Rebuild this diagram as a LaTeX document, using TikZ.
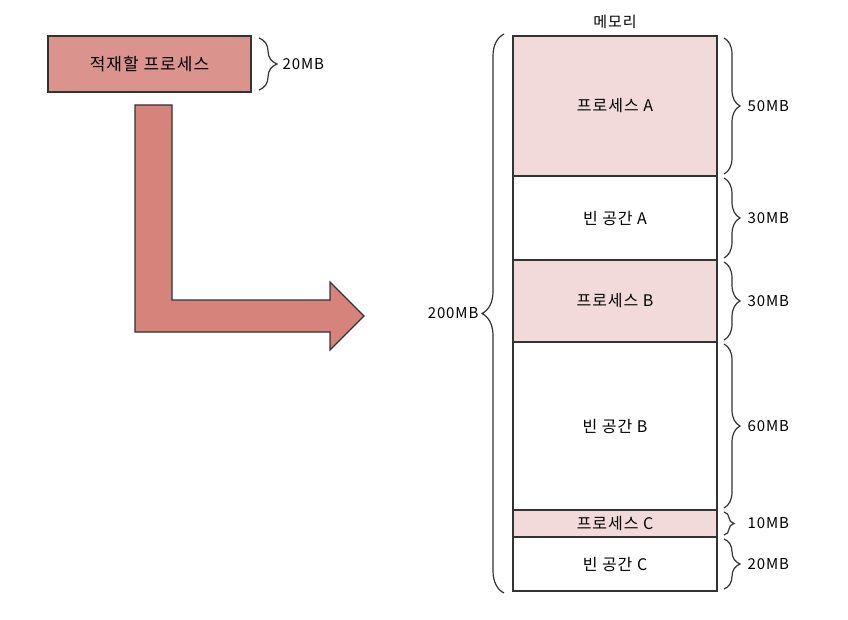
\documentclass[tikz,border=0pt]{standalone}
\usepackage{fontspec}
\setmainfont{Noto Sans CJK KR}[LetterSpace=6]
\usepackage{tikz}
\usetikzlibrary{positioning, decorations.pathreplacing, calc}
\definecolor{colorCarga}{HTML}{DA938D}
\definecolor{colorFlecha}{HTML}{D5837B}
\definecolor{rosaMemoria}{HTML}{F3DADA}
\definecolor{grisTrazo}{HTML}{333333}

\begin{document}
\begin{tikzpicture}[x=1pt, y=-1pt, font=\fontsize{16}{18}\selectfont, node distance=0pt,
        seg/.style={draw=grisTrazo, line width=1.2pt, minimum width=204pt,
            inner sep=0pt, outer sep=0pt, align=center},
        proc/.style={seg, fill=rosaMemoria},
        vacio/.style={seg, fill=white},
        llave/.style={decorate, decoration={brace, amplitude=#1}, draw=grisTrazo, line width=1.2pt},
        llave/.default=16pt,
        etq/.style={font=\fontsize{15}{17}\selectfont, inner sep=1pt}]
        \useasboundingbox (0,0) rectangle (848,620);
        \node[seg, fill=colorCarga, minimum width=203pt, minimum height=56pt,
            font=\fontsize{17}{19}\selectfont] (carga) at (149.5,64) {적재할 프로세스};
        \node[proc, minimum height=140pt] (pa) at (615,106) {프로세스 A};
        \node[vacio, minimum height=84pt, below=of pa] (va) {빈 공간 A};
        \node[proc, minimum height=82pt, below=of va] (pb) {프로세스 B};
        \node[vacio, minimum height=168pt, below=of pb] (vb) {빈 공간 B};
        \node[proc, minimum height=27pt, below=of vb] (pc) {프로세스 C};
        \node[vacio, minimum height=54pt, below=of pc] (vc) {빈 공간 C};
        \node[etq, above=6pt of pa] (mem) {메모리};
        % flecha de carga
        \draw[grisTrazo, line width=1.2pt, fill=colorFlecha, line join=miter]
            (135,105) -- (172,105) -- (172,300) -- (330,300) -- (330,282) -- (364,316)
            -- (330,350) -- (330,332) -- (135,332) -- cycle;
        % llaves
        \draw[llave=18pt] ([xshift=8pt,yshift=-2pt]carga.north east) -- ([xshift=8pt,yshift=2pt]carga.south east)
            node[midway, right=22pt, etq] {20MB};
        \draw[llave=22pt] ([xshift=-9pt,yshift=-2pt]vc.south west) -- ([xshift=-9pt,yshift=2pt]pa.north west)
            node[midway, left=24pt, etq] {200MB};
        \draw[llave] ([xshift=7pt,yshift=-2pt]pa.north east) -- ([xshift=7pt,yshift=2pt]pa.south east)
            node[midway, right=22pt, etq] {50MB};
        \draw[llave] ([xshift=7pt,yshift=-2pt]va.north east) -- ([xshift=7pt,yshift=2pt]va.south east)
            node[midway, right=22pt, etq] {30MB};
        \draw[llave] ([xshift=7pt,yshift=-2pt]pb.north east) -- ([xshift=7pt,yshift=2pt]pb.south east)
            node[midway, right=22pt, etq] {30MB};
        \draw[llave] ([xshift=7pt,yshift=-2pt]vb.north east) -- ([xshift=7pt,yshift=2pt]vb.south east)
            node[midway, right=22pt, etq] {60MB};
        \draw[llave=10pt] ([xshift=7pt,yshift=-2pt]pc.north east) -- ([xshift=7pt,yshift=2pt]pc.south east)
            node[midway, right=22pt, etq] {10MB};
        \draw[llave] ([xshift=7pt,yshift=-2pt]vc.north east) -- ([xshift=7pt,yshift=2pt]vc.south east)
            node[midway, right=22pt, etq] {20MB};
    \end{tikzpicture}
\end{document}
